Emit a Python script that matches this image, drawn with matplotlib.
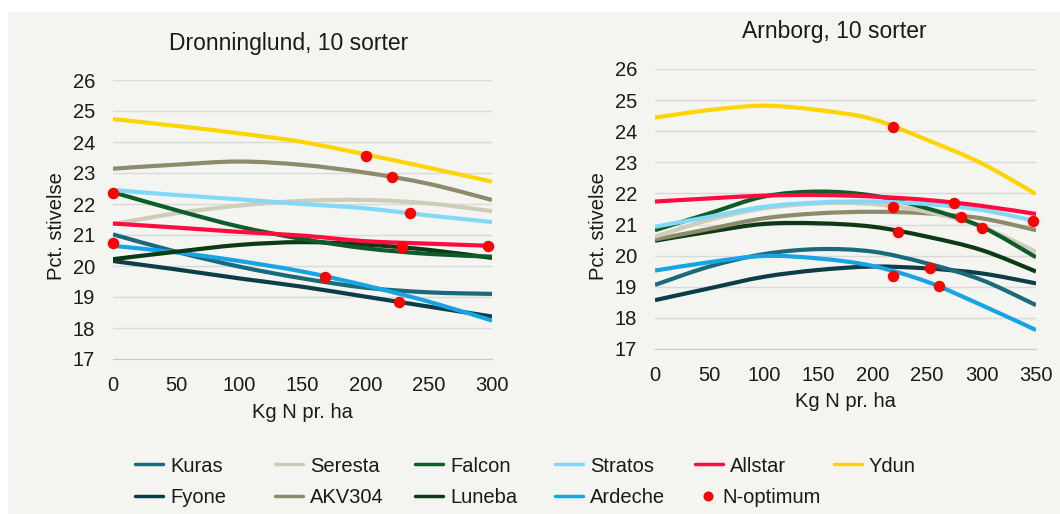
import matplotlib
matplotlib.use("Agg")
import matplotlib.pyplot as plt
from matplotlib.path import Path
from matplotlib.patches import PathPatch, Rectangle
from matplotlib.lines import Line2D
import numpy as np

plt.rcParams['font.family'] = ['Liberation Sans', 'DejaVu Sans']

varieties = ["Kuras", "Seresta", "Falcon", "Stratos", "Allstar", "Ydun",
             "Fyone", "AKV304", "Luneba", "Ardeche"]
colors = {
    "Kuras": "#1A6A7B", "Seresta": "#CFCCBA", "Falcon": "#0F5C2B",
    "Stratos": "#82D8F7", "Allstar": "#FF0C40", "Ydun": "#FFD400",
    "Fyone": "#0E3D4A", "AKV304": "#8D8B6B", "Luneba": "#0B3A15",
    "Ardeche": "#17A4E4",
}

# Dronninglund
n_left = [0, 50, 100, 150, 200, 250, 300]
left_values = {
    "Ydun":    [24.74, 24.52, 24.28, 24.00, 23.60, 23.17, 22.72],
    "AKV304":  [23.14, 23.27, 23.37, 23.26, 23.01, 22.65, 22.13],
    "Stratos": [22.45, 22.29, 22.15, 22.00, 21.86, 21.63, 21.42],
    "Seresta": [21.35, 21.70, 21.95, 22.10, 22.13, 22.02, 21.77],
    "Falcon":  [22.38, 21.80, 21.27, 20.87, 20.57, 20.39, 20.30],
    "Allstar": [21.37, 21.24, 21.10, 20.98, 20.80, 20.72, 20.65],
    "Luneba":  [20.22, 20.46, 20.68, 20.77, 20.69, 20.52, 20.26],
    "Kuras":   [21.02, 20.46, 19.98, 19.60, 19.30, 19.15, 19.10],
    "Ardeche": [20.65, 20.44, 20.16, 19.82, 19.37, 18.85, 18.24],
    "Fyone":   [20.16, 19.89, 19.60, 19.33, 19.01, 18.69, 18.37],
}
left_opt_n = [0, 0, 200, 221, 235, 229, 297, 168, 226]
left_opt_v = [22.37, 20.75, 23.56, 22.88, 21.72, 20.62, 20.63, 19.64, 18.85]

# Arnborg
n_right = [0, 50, 100, 150, 200, 250, 300, 350]
right_values = {
    "Ydun":    [24.44, 24.68, 24.82, 24.68, 24.39, 23.72, 22.97, 21.98],
    "Allstar": [21.74, 21.84, 21.93, 21.95, 21.90, 21.79, 21.60, 21.34],
    "Falcon":  [20.82, 21.36, 21.90, 22.06, 21.93, 21.52, 20.93, 19.95],
    "Seresta": [20.61, 21.15, 21.52, 21.68, 21.66, 21.41, 20.93, 20.13],
    "Stratos": [20.93, 21.25, 21.57, 21.71, 21.74, 21.66, 21.47, 21.11],
    "AKV304":  [20.52, 20.86, 21.20, 21.36, 21.41, 21.36, 21.20, 20.82],
    "Luneba":  [20.48, 20.77, 21.02, 21.04, 20.93, 20.61, 20.18, 19.49],
    "Kuras":   [19.06, 19.65, 20.05, 20.21, 20.13, 19.75, 19.22, 18.41],
    "Ardeche": [19.52, 19.79, 19.99, 19.91, 19.67, 19.16, 18.41, 17.61],
    "Fyone":   [18.57, 18.95, 19.32, 19.54, 19.65, 19.59, 19.43, 19.11],
}
right_opt_n = [219, 219, 223, 219, 253, 261, 275, 281, 300, 347]
right_opt_v = [24.12, 21.57, 20.77, 19.35, 19.59, 19.02, 21.68, 21.23, 20.88, 21.11]

titles = ["Dronninglund, 10 sorter", "Arnborg, 10 sorter"]
x_label = "Kg N pr. ha"
y_label = "Pct. stivelse"
legend_row1 = ["Kuras", "Seresta", "Falcon", "Stratos", "Allstar", "Ydun"]
legend_row2 = ["Fyone", "AKV304", "Luneba", "Ardeche"]
opt_label = "N-optimum"

left_order = ["Seresta", "Kuras", "Fyone", "Ardeche", "Luneba", "Falcon",
              "Allstar", "Stratos", "AKV304", "Ydun"]
right_order = ["Fyone", "Kuras", "Ardeche", "Luneba", "AKV304", "Seresta",
               "Falcon", "Stratos", "Allstar", "Ydun"]

BG = "#F4F4F0"
TXT = "#1A1A1A"
W, H = 1060, 514
FS = 14.5


def fx(px):
    return px / W


def fy(py):
    return 1 - py / H


def smooth_path(x, y):
    x = np.asarray(x, float)
    y = np.asarray(y, float)
    pts = np.column_stack([x, y])
    n = len(pts)
    verts = [pts[0]]
    codes = [Path.MOVETO]
    for i in range(n - 1):
        p0 = pts[i - 1] if i > 0 else pts[i]
        p1 = pts[i]
        p2 = pts[i + 1]
        p3 = pts[i + 2] if i + 2 < n else pts[i + 1]
        c1 = p1 + (p2 - p0) / 6.0
        c2 = p2 - (p3 - p1) / 6.0
        verts += [c1, c2, p2]
        codes += [Path.CURVE4] * 3
    return Path(verts, codes)


def draw_panel(ax, n, values, order, opt_n, opt_v, xmax):
    ax.set_facecolor("none")
    for name in order:
        patch = PathPatch(smooth_path(n, values[name]), fill=False,
                          edgecolor=colors[name], lw=3.0, capstyle='butt',
                          zorder=3)
        ax.add_patch(patch)
    ax.scatter(opt_n, opt_v, s=68, color="#FF0000", zorder=5, linewidths=0,
               clip_on=False)
    ax.set_xlim(0, xmax)
    ax.set_ylim(17, 26)
    ax.set_yticks(range(17, 27))
    ax.set_xticks(range(0, xmax + 1, 50))
    ax.grid(axis='y', color="#D9D9D9", lw=1.0, zorder=0)
    ax.set_axisbelow(True)
    for s in ["top", "right", "left"]:
        ax.spines[s].set_visible(False)
    ax.spines["bottom"].set_color("#C8C8C8")
    ax.tick_params(axis='both', length=0, labelsize=FS, colors=TXT)
    ax.tick_params(axis='y', pad=13)
    ax.tick_params(axis='x', pad=12.5)


fig = plt.figure(figsize=(W / 100, H / 100), dpi=100, facecolor="white")
fig.patches.append(Rectangle((fx(8), 0), 1 - fx(8), fy(12), transform=fig.transFigure,
                             facecolor=BG, edgecolor="none", zorder=-10))

ax1 = fig.add_axes([fx(113), fy(359), fx(492) - fx(113), fy(80) - fy(359)])
ax2 = fig.add_axes([fx(655), fy(349), fx(1036) - fx(655), fy(69) - fy(349)])

draw_panel(ax1, n_left, left_values, left_order, left_opt_n, left_opt_v, 300)
draw_panel(ax2, n_right, right_values, right_order, right_opt_n, right_opt_v, 350)

# titles
fig.text(fx(289), fy(50), titles[0], fontsize=16.5, color=TXT, ha='center', va='baseline')
fig.text(fx(834), fy(38.3), titles[1], fontsize=16.5, color=TXT, ha='center', va='baseline')
# axis labels
fig.text(fx(302.5), fy(418), x_label, fontsize=FS, color=TXT, ha='center', va='baseline')
fig.text(fx(845), fy(406.7), x_label, fontsize=FS, color=TXT, ha='center', va='baseline')
fig.text(fx(56), fy(226.5), y_label, fontsize=FS, color=TXT, ha='center', va='center',
         rotation=90)
fig.text(fx(598), fy(226), y_label, fontsize=FS, color=TXT, ha='center', va='center',
         rotation=90)

# legend (Excel-style fixed-pitch grid)
col_x = [135, 275, 415, 555, 695, 834]
row_y = [464, 495.7]
row_base = [471.7, 503.3]
for r, row in enumerate([legend_row1, legend_row2]):
    for c, name in enumerate(row):
        x0 = col_x[c]
        fig.add_artist(Line2D([fx(x0), fx(x0 + 27.7)], [fy(row_y[r])] * 2,
                              transform=fig.transFigure, color=colors[name],
                              lw=2.5, solid_capstyle='round'))
        fig.text(fx(x0 + 35), fy(row_base[r]), name, fontsize=FS, color=TXT,
                 ha='left', va='baseline')
c = len(legend_row2)
fig.add_artist(Line2D([fx(col_x[c] + 13.3)], [fy(row_y[1])], transform=fig.transFigure,
                      color="#FF0000", marker='o', ls='none', markersize=7.2,
                      markeredgewidth=0))
fig.text(fx(col_x[c] + 27.7), fy(row_base[1]), opt_label, fontsize=FS, color=TXT,
         ha='left', va='baseline')

fig.savefig("out.png", dpi=100, facecolor="white")
